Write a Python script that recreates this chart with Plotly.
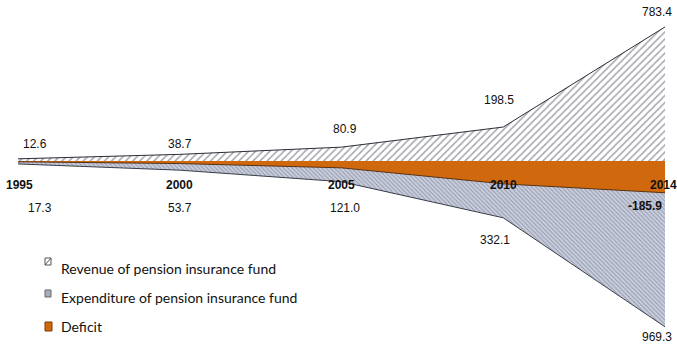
import plotly.graph_objects as go

years = ["1995", "2000", "2005", "2010", "2014"]
revenue = [12.6, 38.7, 80.9, 198.5, 783.4]
expenditure = [17.3, 53.7, 121.0, 332.1, 969.3]
deficit = [-4.7, -15.0, -40.1, -133.6, -185.9]
legend_names = ["Revenue of pension insurance fund",
                "Expenditure of pension insurance fund",
                "Deficit"]

rev_label_shift = [15, 10, 18, 27, 15]
rev_label_xshift = [17, 0, 3, -4, -8]
exp_label_shift = [-44, -38, -26, -22, -10]
exp_label_xshift = [22, 0, 3, -8, -8]

font_num = "Liberation Sans, Arial, sans-serif"
font_leg = "Lato, sans-serif"
W, H = 677, 349
ML, MR = 18, 12

fig = go.Figure()
fig.add_trace(go.Scatter(
    x=years, y=[-v for v in expenditure], mode="lines", fill="tozeroy",
    line=dict(color="#3a3d48", width=1),
    fillcolor="#c3c8d8",
    fillpattern=dict(shape="\\", fgcolor="#5a5e70", bgcolor="#c9cede", size=3, solidity=0.3),
    name=legend_names[1], showlegend=False))
fig.add_trace(go.Scatter(
    x=years, y=revenue, mode="lines", fill="tozeroy",
    line=dict(color="#2a2d36", width=1),
    fillcolor="white",
    fillpattern=dict(shape="/", fgcolor="#4a4e5c", bgcolor="white", size=5, solidity=0.3),
    name=legend_names[0], showlegend=False))
fig.add_trace(go.Scatter(
    x=years, y=deficit, mode="lines", fill="tozeroy",
    line=dict(color="#5a3010", width=1),
    fillcolor="#d0690d",
    name=legend_names[2], showlegend=False))

txt = dict(family=font_num, size=12, color="#111")
for i, y in enumerate(years):
    fig.add_annotation(x=i, y=0, text=f"<b>{y}</b>", showarrow=False,
                       yshift=-24, xshift=(1 if i == 0 else (-2 if i == 4 else 0)), font=txt)
    fig.add_annotation(x=i, y=revenue[i], text=f"{revenue[i]:.1f}", showarrow=False,
                       yshift=rev_label_shift[i], xshift=rev_label_xshift[i], font=txt)
    fig.add_annotation(x=i, y=-expenditure[i], text=f"{expenditure[i]:.1f}", showarrow=False,
                       yshift=exp_label_shift[i], xshift=exp_label_xshift[i], font=txt)
fig.add_annotation(x=4, y=deficit[-1], text=f"<b>{deficit[-1]:.1f}</b>", showarrow=False,
                   yshift=-13, xshift=-20, font=txt)


def px_x(p):
    return (p - ML) / (W - ML - MR)


def px_y(p):
    return (H - p) / H


# manual legend
leg_rows = [268, 297, 326]
for k, name in enumerate(legend_names):
    cy = leg_rows[k]
    fig.add_annotation(xref="paper", yref="paper", x=px_x(59), y=px_y(cy), text=name,
                       xanchor="left", yanchor="middle", showarrow=False,
                       font=dict(family=font_leg, size=14, color="#111"))
icon_boxes = [(45, 258, 51, 265), (45, 290, 51, 297), (45, 322, 52, 331)]
x0, y0, x1, y1 = icon_boxes[0]
fig.add_shape(type="rect", xref="paper", yref="paper", x0=px_x(x0), x1=px_x(x1),
              y0=px_y(y1), y1=px_y(y0), line=dict(color="#555", width=1), fillcolor="white")
fig.add_shape(type="line", xref="paper", yref="paper", x0=px_x(x0), x1=px_x(x1),
              y0=px_y(y1), y1=px_y(y0), line=dict(color="#555", width=1))
x0, y0, x1, y1 = icon_boxes[1]
fig.add_shape(type="rect", xref="paper", yref="paper", x0=px_x(x0), x1=px_x(x1),
              y0=px_y(y1), y1=px_y(y0), line=dict(color="#666", width=1), fillcolor="#a9adbd")
x0, y0, x1, y1 = icon_boxes[2]
fig.add_shape(type="rect", xref="paper", yref="paper", x0=px_x(x0), x1=px_x(x1),
              y0=px_y(y1), y1=px_y(y0), line=dict(color="#7a3a08", width=1), fillcolor="#d0690d")

fig.update_layout(
    width=W, height=H,
    margin=dict(l=ML, r=MR, t=0, b=0),
    plot_bgcolor="white", paper_bgcolor="white",
    showlegend=False,
    xaxis=dict(type="category", range=[0, 4], showgrid=False, showticklabels=False,
               zeroline=False, showline=False, ticks=""),
    yaxis=dict(range=[-1099, 941], showgrid=False, showticklabels=False,
               zeroline=False, showline=False, ticks=""),
)

fig.write_html("out.html")
